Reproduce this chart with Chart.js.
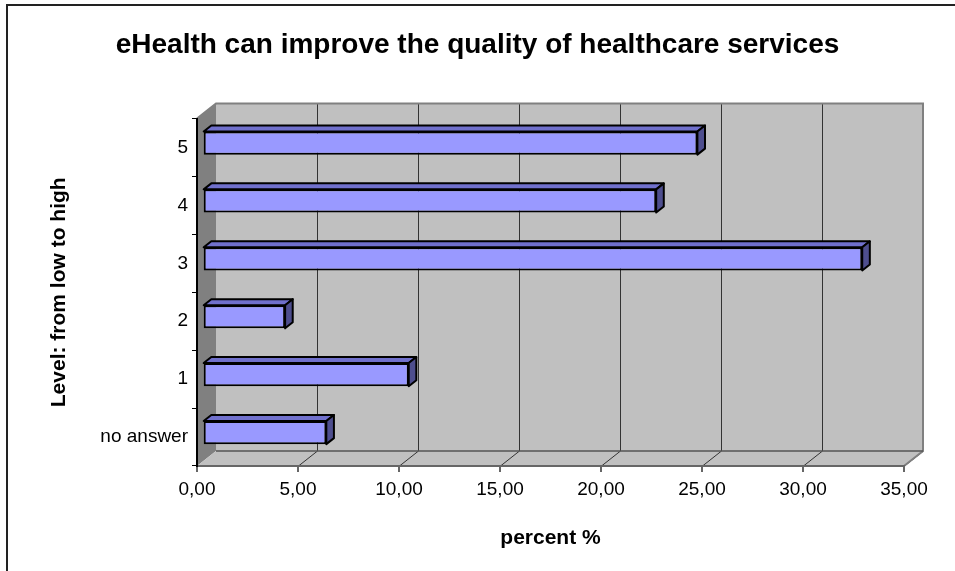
<!DOCTYPE html>
<html>
<head>
<meta charset="utf-8">
<script src="https://cdn.jsdelivr.net/npm/chart.js@4.4.1/dist/chart.umd.min.js"></script>
<style>
  html, body { margin: 0; padding: 0; background: #fff; }
  #wrap { width: 955px; height: 571px; }
</style>
</head>
<body>
<div id="wrap"><canvas id="ehealthChart" width="955" height="571"></canvas></div>
<script>
const levels = ['no answer', '1', '2', '3', '4', '5'];
const percentValues = [6.12, 10.20, 4.08, 32.65, 22.45, 24.49];
const percentTicks = [0, 5, 10, 15, 20, 25, 30, 35];

const FONT = "'Liberation Sans', Arial, sans-serif";
// depth of the 3D box, and where the bars sit inside it
const DEPTH_X = 19, DEPTH_Y = 15;
const BAR_FRONT = 0.3, BAR_BACK = 0.7;

const box3d = {
  id: 'box3d',
  afterLayout(chart) {
    // centre the title on the whole canvas, not just the padded area
    const t = chart.titleBlock;
    if (t) { t.left = 0; t.right = chart.width; t.width = chart.width; }
  },
  beforeDraw(chart) {
    const ctx = chart.ctx;
    const { left, right, top, bottom } = chart.chartArea;
    const xs = chart.scales.x;

    ctx.save();
    ctx.fillStyle = '#fff';
    ctx.fillRect(0, 0, chart.width, chart.height);
    // frame (only top and left edges are inside the canvas)
    ctx.fillStyle = '#222';
    ctx.fillRect(6, 4, 2, chart.height - 4);
    ctx.fillRect(6, 4, chart.width - 6, 2);

    // back wall
    ctx.fillStyle = '#c0c0c0';
    ctx.fillRect(left + DEPTH_X, top - DEPTH_Y, right - left, bottom - top);
    // left side wall
    ctx.fillStyle = '#808080';
    ctx.beginPath();
    ctx.moveTo(left, top);
    ctx.lineTo(left + DEPTH_X, top - DEPTH_Y);
    ctx.lineTo(left + DEPTH_X, bottom - DEPTH_Y);
    ctx.lineTo(left, bottom);
    ctx.closePath();
    ctx.fill();
    // floor
    ctx.fillStyle = '#c0c0c0';
    ctx.beginPath();
    ctx.moveTo(left, bottom);
    ctx.lineTo(right, bottom);
    ctx.lineTo(right + DEPTH_X, bottom - DEPTH_Y);
    ctx.lineTo(left + DEPTH_X, bottom - DEPTH_Y);
    ctx.closePath();
    ctx.fill();

    // gridlines on the back wall and across the floor
    ctx.strokeStyle = '#333';
    ctx.lineWidth = 1;
    percentTicks.forEach(v => {
      const px = Math.round(xs.getPixelForValue(v)) + 0.5;
      if (v > 0 && v < 35) {
        ctx.beginPath();
        ctx.moveTo(px + DEPTH_X, top - DEPTH_Y);
        ctx.lineTo(px + DEPTH_X, bottom - DEPTH_Y);
        ctx.stroke();
      }
      if (v > 0) {
        ctx.beginPath();
        ctx.moveTo(px, bottom);
        ctx.lineTo(px + DEPTH_X, bottom - DEPTH_Y);
        ctx.stroke();
      }
    });

    // wall outlines
    ctx.strokeStyle = '#808080';
    ctx.lineWidth = 2;
    ctx.beginPath();
    ctx.moveTo(left, top);
    ctx.lineTo(left + DEPTH_X, top - DEPTH_Y);
    ctx.lineTo(right + DEPTH_X, top - DEPTH_Y);
    ctx.lineTo(right + DEPTH_X, bottom - DEPTH_Y);
    ctx.lineTo(right, bottom);
    ctx.stroke();
    ctx.strokeStyle = '#555';
    ctx.lineWidth = 1.5;
    ctx.beginPath();
    ctx.moveTo(left + DEPTH_X, bottom - DEPTH_Y);
    ctx.lineTo(right + DEPTH_X, bottom - DEPTH_Y);
    ctx.stroke();
    ctx.restore();
  },
  beforeDatasetsDraw(chart) {
    // front faces of the bars sit a little way into the box
    chart.ctx.save();
    chart.ctx.translate(DEPTH_X * BAR_FRONT, -DEPTH_Y * BAR_FRONT);
  },
  afterDatasetsDraw(chart) {
    const ctx = chart.ctx;
    ctx.restore();
    const fx = DEPTH_X * BAR_FRONT, fy = -DEPTH_Y * BAR_FRONT;
    const bx = DEPTH_X * BAR_BACK, by = -DEPTH_Y * BAR_BACK;
    ctx.save();
    ctx.lineWidth = 2;
    ctx.strokeStyle = '#000';
    ctx.lineJoin = 'round';
    chart.getDatasetMeta(0).data.forEach(bar => {
      const { x, y, base, height } = bar.getProps(['x', 'y', 'base', 'height'], true);
      const t = y - height / 2, b = y + height / 2;
      // top face
      ctx.fillStyle = '#7070cc';
      ctx.beginPath();
      ctx.moveTo(base + fx, t + fy);
      ctx.lineTo(x + fx, t + fy);
      ctx.lineTo(x + bx, t + by);
      ctx.lineTo(base + bx, t + by);
      ctx.closePath();
      ctx.fill();
      ctx.stroke();
      // end face
      ctx.fillStyle = '#4e4e8e';
      ctx.beginPath();
      ctx.moveTo(x + fx, t + fy);
      ctx.lineTo(x + bx, t + by);
      ctx.lineTo(x + bx, b + by);
      ctx.lineTo(x + fx, b + fy);
      ctx.closePath();
      ctx.fill();
      ctx.stroke();
    });
    ctx.restore();
  }
};

const ctx = document.getElementById('ehealthChart').getContext('2d');
new Chart(ctx, {
  type: 'bar',
  data: {
    labels: levels,
    datasets: [{
      data: percentValues,
      backgroundColor: '#9999ff',
      borderColor: '#000',
      borderWidth: 2,
      borderSkipped: false,
      barPercentage: 0.4,
      categoryPercentage: 1.0
    }]
  },
  options: {
    indexAxis: 'y',
    responsive: false,
    animation: false,
    layout: { padding: { left: 0, right: 51, top: 0, bottom: 0 } },
    plugins: {
      legend: { display: false },
      tooltip: { enabled: false },
      title: {
        display: true,
        text: 'eHealth can improve the quality of healthcare services',
        color: '#000',
        font: { family: FONT, size: 28, weight: 'bold' },
        padding: { top: 28, bottom: 57 }
      }
    },
    scales: {
      x: {
        type: 'linear',
        min: 0,
        max: 35,
        afterBuildTicks: s => { s.ticks = percentTicks.map(v => ({ value: v })); },
        afterFit: s => { s.height = 105; },
        ticks: {
          color: '#000',
          font: { family: FONT, size: 19 },
          padding: 6,
          callback: v => v.toFixed(2).replace('.', ',')
        },
        grid: { drawOnChartArea: false, drawTicks: true, tickLength: 6, color: '#666', lineWidth: 2 },
        border: { display: true, color: '#666', width: 2 },
        title: {
          display: true,
          text: 'percent %',
          color: '#000',
          font: { family: FONT, size: 21, weight: 'bold' },
          padding: { top: 0, bottom: 20 }
        }
      },
      y: {
        type: 'category',
        reverse: true,
        afterFit: s => { s.width = 197; },
        ticks: {
          color: '#000',
          font: { family: FONT, size: 19 },
          padding: 4
        },
        grid: { drawOnChartArea: false, drawTicks: true, tickLength: 5, color: '#000', offset: true },
        border: { display: true, color: '#000', width: 2 },
        title: {
          display: true,
          text: 'Level: from low to high',
          color: '#000',
          font: { family: FONT, size: 21, weight: 'bold' },
          padding: { top: 47, bottom: 0 }
        }
      }
    }
  },
  plugins: [box3d]
});
</script>
</body>
</html>
